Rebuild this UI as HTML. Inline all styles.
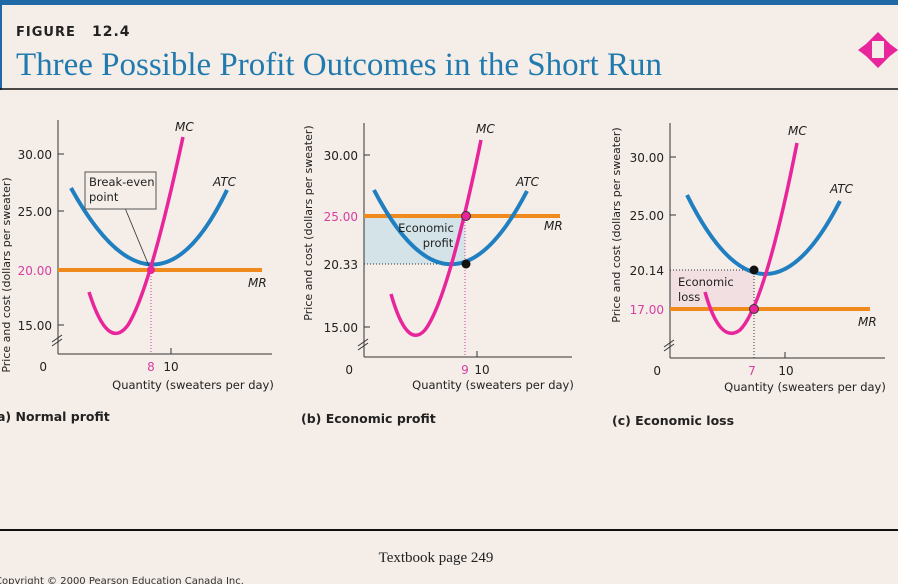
<!DOCTYPE html>
<html><head><meta charset="utf-8"><style>
body{margin:0;background:#f5ede7;}
svg{display:block}
text{font-family:"DejaVu Sans","Liberation Sans",sans-serif;}
.s{font-family:"Liberation Serif",serif;}
</style></head><body>
<svg width="898" height="584" viewBox="0 0 898 584" xmlns="http://www.w3.org/2000/svg">
<rect width="898" height="584" fill="#f5ede7"/>
<rect x="0" y="0" width="898" height="5" fill="#1f6aa6"/>
<rect x="0" y="0" width="2" height="90" fill="#1f6aa6"/>
<text x="16" y="36" font-size="13" font-weight="bold" fill="#222" letter-spacing="1">FIGURE</text>
<text x="92" y="36" font-size="14" font-weight="bold" fill="#222" letter-spacing="1">12.4</text>
<text x="16" y="75" class="s" font-size="33" fill="#1f7ab0" textLength="646" lengthAdjust="spacingAndGlyphs">Three Possible Profit Outcomes in the Short Run</text>
<polygon points="878,32 890,44 890,56 878,68 866,56 866,44" fill="#e8259a"/>
<polygon points="866,44 858,50 866,56" fill="#e8259a"/><polygon points="890,44 898,50 890,56" fill="#e8259a"/>
<rect x="872" y="41" width="12" height="17" fill="#f5ede7"/>
<line x1="0" y1="89" x2="898" y2="89" stroke="#111" stroke-width="1.5"/>
<line x1="0" y1="530" x2="898" y2="530" stroke="#111" stroke-width="2"/>
<text x="436" y="562" class="s" font-size="15" fill="#222" text-anchor="middle">Textbook page 249</text>
<text x="-5" y="584" font-size="10" fill="#333">Copyright © 2000 Pearson Education Canada Inc.</text>

<!-- Panel a -->
<g font-size="12" fill="#222">
<line x1="58" y1="120" x2="58" y2="354" stroke="#333"/>
<line x1="58" y1="354" x2="272" y2="354" stroke="#333"/>
<line x1="52" y1="342" x2="62" y2="335" stroke="#333"/><line x1="52" y1="346" x2="62" y2="339" stroke="#333"/>
<line x1="58" y1="154" x2="64" y2="154" stroke="#333"/><line x1="58" y1="211" x2="64" y2="211" stroke="#333"/><line x1="58" y1="325" x2="64" y2="325" stroke="#333"/>
<line x1="171" y1="354" x2="171" y2="348" stroke="#333"/>
<text x="52" y="159" text-anchor="end">30.00</text>
<text x="52" y="216" text-anchor="end">25.00</text>
<text x="52" y="275" text-anchor="end" fill="#d63fa0">20.00</text>
<text x="52" y="330" text-anchor="end">15.00</text>
<text x="47" y="371" text-anchor="end">0</text>
<text x="151" y="371" text-anchor="middle" fill="#d63fa0">8</text>
<text x="171" y="371" text-anchor="middle">10</text>
<text x="193" y="389" text-anchor="middle" font-size="11.5">Quantity (sweaters per day)</text>
<text x="10" y="275" transform="rotate(-90 10 275)" text-anchor="middle" font-size="11">Price and cost (dollars per sweater)</text>
<text x="-3" y="421" font-weight="bold" font-size="12.5">a) Normal profit</text>
<line x1="151" y1="270" x2="151" y2="354" stroke="#d63fa0" stroke-dasharray="1,2"/>
<line x1="58" y1="270" x2="262" y2="270" stroke="#f08a1c" stroke-width="4"/>
<path d="M71,188 Q155,340 227,190" fill="none" stroke="#1f7fc0" stroke-width="4"/>
<path d="M89,292 Q108,352 128,325 Q150,290 183,137" fill="none" stroke="#e8259a" stroke-width="3.5"/>
<circle cx="151" cy="270" r="4" fill="#e8259a"/>
<line x1="125" y1="208" x2="149" y2="266" stroke="#333" stroke-width="0.8"/>
<rect x="85" y="172" width="71" height="37" fill="#f5ede7" stroke="#555"/>
<text x="89" y="186" font-size="11.5">Break-even</text><text x="89" y="201" font-size="11.5">point</text>
<text x="175" y="131" font-style="italic">MC</text>
<text x="213" y="186" font-style="italic">ATC</text>
<text x="248" y="287" font-style="italic">MR</text>
</g>

<!-- Panel b -->
<g font-size="12" fill="#222">
<rect x="364" y="216" width="101" height="48" fill="#d3e3e8"/>
<line x1="364" y1="123" x2="364" y2="357" stroke="#333"/>
<line x1="364" y1="357" x2="572" y2="357" stroke="#333"/>
<line x1="358" y1="346" x2="368" y2="339" stroke="#333"/><line x1="358" y1="350" x2="368" y2="343" stroke="#333"/>
<line x1="364" y1="155" x2="370" y2="155" stroke="#333"/><line x1="364" y1="327" x2="370" y2="327" stroke="#333"/>
<line x1="477" y1="357" x2="477" y2="351" stroke="#333"/>
<text x="358" y="160" text-anchor="end">30.00</text>
<text x="358" y="221" text-anchor="end" fill="#d63fa0">25.00</text>
<text x="358" y="269" text-anchor="end">20.33</text>
<text x="358" y="332" text-anchor="end">15.00</text>
<text x="353" y="374" text-anchor="end">0</text>
<text x="465" y="374" text-anchor="middle" fill="#d63fa0">9</text>
<text x="482" y="374" text-anchor="middle">10</text>
<text x="493" y="389" text-anchor="middle" font-size="11.5">Quantity (sweaters per day)</text>
<text x="312" y="223" transform="rotate(-90 312 223)" text-anchor="middle" font-size="11">Price and cost (dollars per sweater)</text>
<text x="301" y="423" font-weight="bold" font-size="12.5">(b) Economic profit</text>
<line x1="364" y1="264" x2="465" y2="264" stroke="#333" stroke-dasharray="1,2"/>
<line x1="465" y1="216" x2="465" y2="357" stroke="#d63fa0" stroke-dasharray="1,2"/>
<line x1="364" y1="216" x2="560" y2="216" stroke="#f08a1c" stroke-width="4"/>
<path d="M374,190 Q451,338 527,191" fill="none" stroke="#1f7fc0" stroke-width="4"/>
<path d="M391,294 Q407,350 425,330 Q448,300 481,140" fill="none" stroke="#e8259a" stroke-width="3.5"/>
<circle cx="466" cy="216" r="4.5" fill="#e8259a" stroke="#333"/>
<circle cx="466" cy="264" r="4.5" fill="#111"/>
<text x="426" y="232" text-anchor="middle" font-size="11.5">Economic</text>
<text x="438" y="247" text-anchor="middle" font-size="11.5">profit</text>
<text x="476" y="133" font-style="italic">MC</text>
<text x="516" y="186" font-style="italic">ATC</text>
<text x="544" y="230" font-style="italic">MR</text>
</g>

<!-- Panel c -->
<g font-size="12" fill="#222">
<rect x="670" y="270" width="84" height="39" fill="#f2dfe2"/>
<line x1="670" y1="123" x2="670" y2="358" stroke="#333"/>
<line x1="670" y1="358" x2="885" y2="358" stroke="#333"/>
<line x1="664" y1="347" x2="674" y2="340" stroke="#333"/><line x1="664" y1="351" x2="674" y2="344" stroke="#333"/>
<line x1="670" y1="157" x2="676" y2="157" stroke="#333"/><line x1="670" y1="215" x2="676" y2="215" stroke="#333"/>
<line x1="785" y1="358" x2="785" y2="352" stroke="#333"/>
<text x="664" y="162" text-anchor="end">30.00</text>
<text x="664" y="220" text-anchor="end">25.00</text>
<text x="664" y="275" text-anchor="end">20.14</text>
<text x="664" y="314" text-anchor="end" fill="#d63fa0">17.00</text>
<text x="661" y="375" text-anchor="end">0</text>
<text x="752" y="375" text-anchor="middle" fill="#d63fa0">7</text>
<text x="786" y="375" text-anchor="middle">10</text>
<text x="805" y="391" text-anchor="middle" font-size="11.5">Quantity (sweaters per day)</text>
<text x="620" y="225" transform="rotate(-90 620 225)" text-anchor="middle" font-size="11">Price and cost (dollars per sweater)</text>
<text x="612" y="425" font-weight="bold" font-size="12.5">(c) Economic loss</text>
<line x1="670" y1="270" x2="754" y2="270" stroke="#333" stroke-dasharray="1,2"/>
<line x1="754" y1="270" x2="754" y2="358" stroke="#333" stroke-dasharray="1,2"/>
<line x1="670" y1="309" x2="870" y2="309" stroke="#f08a1c" stroke-width="4"/>
<path d="M687,195 Q764,350 840,201" fill="none" stroke="#1f7fc0" stroke-width="4"/>
<path d="M705,292 Q720,345 740,330 Q765,305 797,143" fill="none" stroke="#e8259a" stroke-width="3.5"/>
<circle cx="754" cy="270" r="4.5" fill="#111"/>
<circle cx="754" cy="309" r="4.5" fill="#e8259a" stroke="#333"/>
<text x="678" y="286" font-size="11.5">Economic</text>
<text x="678" y="301" font-size="11.5">loss</text>
<text x="788" y="135" font-style="italic">MC</text>
<text x="830" y="193" font-style="italic">ATC</text>
<text x="858" y="326" font-style="italic">MR</text>
</g>
</svg>
</body></html>
